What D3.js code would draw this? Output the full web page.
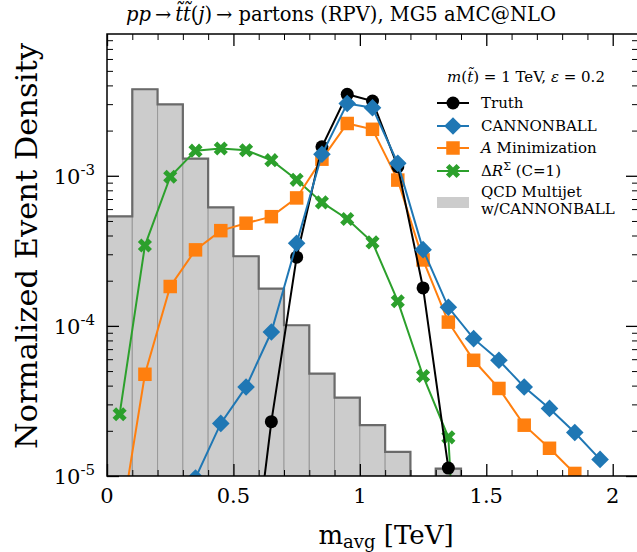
<!DOCTYPE html>
<html>
<head>
<meta charset="utf-8">
<script src="https://cdn.jsdelivr.net/npm/d3@7"></script>
<style>
  body { margin: 0; background: #fff; }
  text { font-family: "DejaVu Serif", serif; fill: #000; }
</style>
</head>
<body>
<svg id="chart" width="637" height="552"></svg>
<script>
// bin centres (TeV) for the reconstructed-mass curves
const binCenters = [0.05, 0.15, 0.25, 0.35, 0.45, 0.55, 0.65, 0.75, 0.85, 0.95,
                    1.05, 1.15, 1.25, 1.35, 1.45, 1.55, 1.65, 1.75, 1.85, 1.95];

const truth      = [null, null, null, null, null, 1.0e-6, 2.30e-5, 2.87e-4, 1.56e-3, 3.49e-3,
                    3.15e-3, 1.15e-3, 1.79e-4, 1.13e-5, null, null, null, null, null, null];
const cannonball = [null, null, null, 9.7e-6, 2.24e-5, 3.92e-5, 9.1e-5, 3.55e-4, 1.39e-3, 3.03e-3,
                    2.84e-3, 1.21e-3, 3.22e-4, 1.33e-4, 8.22e-5, 5.9e-5, 3.92e-5, 2.82e-5, 1.95e-5, 1.29e-5];
const aMin       = [4.3e-6, 4.76e-5, 1.83e-4, 3.21e-4, 4.31e-4, 4.83e-4, 5.34e-4, 7.12e-4, 1.29e-3, 2.23e-3,
                    2.04e-3, 9.36e-4, 2.75e-4, 1.06e-4, 5.9e-5, 3.83e-5, 2.18e-5, 1.53e-5, 1.04e-5, null];
const deltaR     = [2.58e-5, 3.43e-4, 9.85e-4, 1.47e-3, 1.52e-3, 1.48e-3, 1.27e-3, 9.4e-4, 6.65e-4, 5.15e-4,
                    3.6e-4, 1.46e-4, 4.64e-5, 1.81e-5, 1.5e-8, null, null, null, null, null];

// QCD multijet histogram (w/ CANNONBALL)
const qcdEdges  = [0, 0.1, 0.2, 0.3, 0.4, 0.5, 0.6, 0.7, 0.8, 0.9, 1.0, 1.1, 1.2, 1.3, 1.4];
const qcdValues = [5.37e-4, 3.77e-3, 2.99e-3, 1.30e-3, 6.16e-4, 2.91e-4, 1.77e-4, 1.01e-4,
                   4.81e-5, 3.33e-5, 2.18e-5, 1.45e-5, 0, 1.12e-5];

const xTicks = [0, 0.5, 1, 1.5, 2];
const yTicks = [1e-5, 1e-4, 1e-3];
const yExponents = ["-5", "-4", "-3"];

// frame
const pL = 107, pR = 638, pT = 34, pB = 476;
const svg = d3.select("#chart");

const x = d3.scaleLinear().domain([0, 2.1]).range([pL, pR]);
const y = d3.scaleLog().domain([1e-5, 8.8e-3]).range([pB, pT]);
const yv = v => y(Math.max(v, 1e-8));

svg.append("defs").append("clipPath").attr("id", "plotclip")
  .append("rect").attr("x", pL).attr("y", pT)
  .attr("width", pR - pL).attr("height", pB - pT);

const plot = svg.append("g").attr("clip-path", "url(#plotclip)");

// histogram bars
const bins = qcdValues.map((v, i) => ({ x0: qcdEdges[i], x1: qcdEdges[i + 1], v: v }));
plot.selectAll(".bar")
  .data(bins.filter(d => d.v > 0))
  .enter().append("rect")
  .attr("class", "bar")
  .attr("x", d => x(d.x0))
  .attr("width", d => x(d.x1) - x(d.x0))
  .attr("y", d => yv(d.v))
  .attr("height", d => pB - yv(d.v))
  .attr("fill", "#cccccc")
  .attr("stroke", "#999999")
  .attr("stroke-width", 1);

// histogram step outline
const stepPts = [[x(qcdEdges[0]), pB + 5]];
bins.forEach(d => {
  stepPts.push([x(d.x0), yv(d.v)]);
  stepPts.push([x(d.x1), yv(d.v)]);
});
stepPts.push([x(qcdEdges[qcdEdges.length - 1]), pB + 5]);
plot.append("path")
  .attr("d", d3.line()(stepPts))
  .attr("fill", "none")
  .attr("stroke", "#6a6a6a")
  .attr("stroke-width", 2.2);

// marker shapes
const markerPath = {
  circle: d3.symbol(d3.symbolCircle, Math.PI * 6.5 * 6.5)(),
  square: d3.symbol(d3.symbolSquare, 13.5 * 13.5)(),
  diamond: "M0,-8.8L8.8,0L0,8.8L-8.8,0Z",
  cross: d3.symbol(d3.symbolCross, 125)()
};

const series = [
  { name: "deltaR", values: deltaR, color: "#2ca02c", marker: "cross", rot: 45 },
  { name: "aMin", values: aMin, color: "#ff7f0e", marker: "square", rot: 0 },
  { name: "truth", values: truth, color: "#000000", marker: "circle", rot: 0 },
  { name: "cannonball", values: cannonball, color: "#1f77b4", marker: "diamond", rot: 0 }
];

const line = d3.line()
  .defined(d => d.v != null)
  .x(d => x(d.m))
  .y(d => yv(d.v));

series.forEach(s => {
  const pts = binCenters.map((m, i) => ({ m: m, v: s.values[i] }));
  plot.append("path")
    .attr("d", line(pts))
    .attr("fill", "none")
    .attr("stroke", s.color)
    .attr("stroke-width", 2);
  plot.selectAll(".mk-" + s.name)
    .data(pts.filter(d => d.v != null))
    .enter().append("path")
    .attr("class", "mk-" + s.name)
    .attr("d", markerPath[s.marker])
    .attr("transform", d => `translate(${x(d.m)},${yv(d.v)}) rotate(${s.rot})`)
    .attr("fill", s.color);
});

// axes: ticks pointing inward on all four sides
const xMinor = d3.range(0, 2.11, 0.1).filter(v => Math.abs(v * 2 - Math.round(v * 2)) > 1e-6);
const yMinor = [];
[-5, -4, -3].forEach(e => d3.range(2, 10).forEach(k => {
  const v = k * Math.pow(10, e);
  if (v <= 8.8e-3) yMinor.push(v);
}));

function tickAxis(axisFn, scale, vals, size, tr) {
  const g = svg.append("g").attr("transform", tr)
    .call(axisFn(scale).tickValues(vals).tickSize(size).tickFormat(""));
  g.select(".domain").remove();
  g.selectAll("line").attr("stroke", "#000").attr("stroke-width", size === -12 ? 1.3 : 1);
  return g;
}
tickAxis(d3.axisBottom, x, xTicks, -12, `translate(0,${pB})`);
tickAxis(d3.axisBottom, x, xMinor, -6, `translate(0,${pB})`);
tickAxis(d3.axisTop, x, xTicks, -12, `translate(0,${pT})`);
tickAxis(d3.axisTop, x, xMinor, -6, `translate(0,${pT})`);
tickAxis(d3.axisLeft, y, yTicks, -12, `translate(${pL},0)`);
tickAxis(d3.axisLeft, y, yMinor, -6, `translate(${pL},0)`);
tickAxis(d3.axisRight, y, yTicks, -12, `translate(${pR},0)`);
tickAxis(d3.axisRight, y, yMinor, -6, `translate(${pR},0)`);

// spines
svg.append("rect")
  .attr("x", pL).attr("y", pT)
  .attr("width", pR - pL).attr("height", pB - pT)
  .attr("fill", "none").attr("stroke", "#000").attr("stroke-width", 1.5);

// tick labels
svg.selectAll(".xlab").data(xTicks).enter().append("text")
  .attr("class", "xlab")
  .attr("x", d => x(d)).attr("y", pB + 27)
  .attr("text-anchor", "middle")
  .style("font-size", "21px")
  .text(d => d3.format("")(d));

const ylab = svg.selectAll(".ylab").data(yTicks).enter().append("text")
  .attr("class", "ylab")
  .attr("x", pL - 12).attr("y", d => y(d) + 8)
  .attr("text-anchor", "end")
  .style("font-size", "21px");
ylab.append("tspan").text("10");
ylab.append("tspan").attr("dy", -9).style("font-size", "15px").text((d, i) => yExponents[i]);

// axis titles
svg.append("text")
  .attr("transform", `translate(37,246) rotate(-90)`)
  .attr("text-anchor", "middle")
  .style("font-size", "30.5px")
  .text("Normalized Event Density");

const xt = svg.append("text")
  .attr("x", 386).attr("y", 544)
  .attr("text-anchor", "middle")
  .style("font-size", "26px");
xt.append("tspan").text("m");
xt.append("tspan").attr("dy", 4).style("font-size", "18px").text("avg");
xt.append("tspan").attr("dy", -4).text(" [TeV]");

// title
const tt = svg.append("text")
  .attr("x", 341).attr("y", 21)
  .attr("text-anchor", "middle")
  .style("font-size", "19.5px");
tt.append("tspan").style("font-style", "italic").text("pp");
tt.append("tspan").text("\u2009\u2192\u2009");
tt.append("tspan").style("font-style", "italic").text("t\u0303t\u0303");
tt.append("tspan").text("(");
tt.append("tspan").style("font-style", "italic").text("j");
tt.append("tspan").text(")\u2009\u2192  partons (RPV), MG5 aMC@NLO");

// legend
const lg = svg.append("g").style("font-size", "15px");
const lgTitle = lg.append("text").attr("x", 526).attr("y", 82).attr("text-anchor", "middle");
lgTitle.append("tspan").style("font-style", "italic").text("m");
lgTitle.append("tspan").text("(");
lgTitle.append("tspan").style("font-style", "italic").text("t\u0303");
lgTitle.append("tspan").text(") = 1 TeV, ");
lgTitle.append("tspan").style("font-style", "italic").text("\u03b5");
lgTitle.append("tspan").text(" = 0.2");

const legendItems = [
  { s: series[2], label: "Truth", ly: 103 },
  { s: series[3], label: "CANNONBALL", ly: 126 },
  { s: series[1], label: "Minimization", ly: 148, prefix: "A" },
  { s: series[0], label: "(C=1)", ly: 171, sup: "\u03a3" }
];
legendItems.forEach(it => {
  lg.append("line").attr("x1", 437).attr("x2", 469).attr("y1", it.ly).attr("y2", it.ly)
    .attr("stroke", it.s.color).attr("stroke-width", 2);
  lg.append("path").attr("d", markerPath[it.s.marker])
    .attr("transform", `translate(453,${it.ly}) rotate(${it.s.rot})`)
    .attr("fill", it.s.color);
  const t = lg.append("text").attr("x", 481).attr("y", it.ly + 5);
  if (it.sup) {
    t.append("tspan").text("\u0394");
    t.append("tspan").style("font-style", "italic").text("R");
    t.append("tspan").attr("dy", -6).style("font-size", "11px").text(it.sup);
    t.append("tspan").attr("dy", 6).text(" " + it.label);
  } else if (it.prefix) {
    t.append("tspan").style("font-style", "italic").text(it.prefix);
    t.append("tspan").text(" " + it.label);
  } else {
    t.text(it.label);
  }
});
lg.append("rect").attr("x", 437).attr("y", 197).attr("width", 32).attr("height", 11).attr("fill", "#cccccc");
lg.append("text").attr("x", 481).attr("y", 197).text("QCD Multijet");
lg.append("text").attr("x", 481).attr("y", 214).text("w/CANNONBALL");
</script>
</body>
</html>
